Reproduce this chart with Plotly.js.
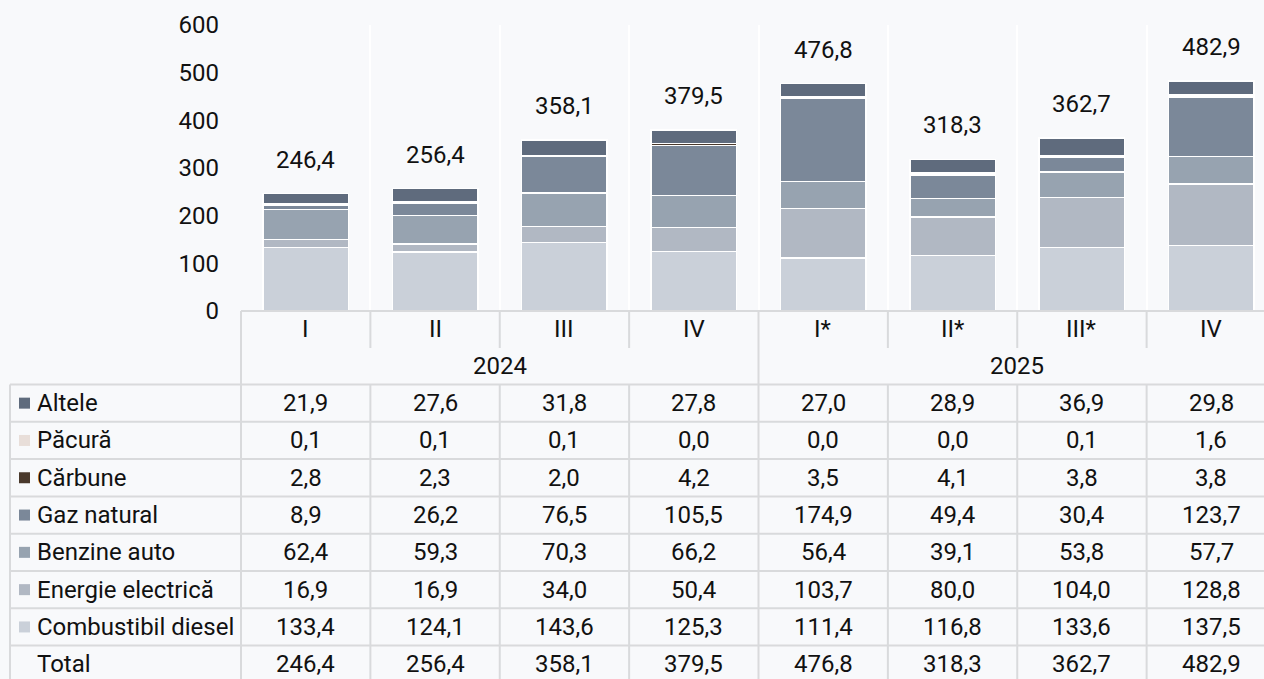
<!DOCTYPE html>
<html>
<head>
<meta charset="utf-8">
<script src="https://cdn.plot.ly/plotly-3.0.1.min.js"></script>
<style>
html,body{margin:0;padding:0;background:#f8f9fb;overflow:hidden;}
#chart{width:1280px;height:700px;}
</style>
</head>
<body>
<div id="chart"></div>
<script>
// ---- data ----
const quarters = ['I','II','III','IV','I*','II*','III*','IV'];
const years = ['2024','2025'];
const seriesNames = ['Altele','Păcură','Cărbune','Gaz natural','Benzine auto','Energie electrică','Combustibil diesel'];
const altele  = [21.9,27.6,31.8,27.8,27.0,28.9,36.9,29.8];
const pacura  = [0.1,0.1,0.1,0.0,0.0,0.0,0.1,1.6];
const carbune = [2.8,2.3,2.0,4.2,3.5,4.1,3.8,3.8];
const gaz     = [8.9,26.2,76.5,105.5,174.9,49.4,30.4,123.7];
const benzine = [62.4,59.3,70.3,66.2,56.4,39.1,53.8,57.7];
const energie = [16.9,16.9,34.0,50.4,103.7,80.0,104.0,128.8];
const diesel  = [133.4,124.1,143.6,125.3,111.4,116.8,133.6,137.5];
const total   = [246.4,256.4,358.1,379.5,476.8,318.3,362.7,482.9];
const yTicks  = [0,100,200,300,400,500,600];

// ---- styling ----
const colors = {
  'Altele':'#5f6b7d','Păcură':'#e8ded9','Cărbune':'#4a392c','Gaz natural':'#7b8899',
  'Benzine auto':'#97a3b0','Energie electrică':'#b1b8c3','Combustibil diesel':'#cad0d9'
};
const seriesData = {
  'Altele':altele,'Păcură':pacura,'Cărbune':carbune,'Gaz natural':gaz,
  'Benzine auto':benzine,'Energie electrică':energie,'Combustibil diesel':diesel
};
const fmt = v => v.toFixed(1).replace('.', ',');
const FONT = 'Roboto, "Noto Sans", sans-serif';
const FS = 24;
const TXT = '#111111';
const LINE = '#d9dadc';

const W = 1280, H = 700;
const ML = 241, MR = 4, MT = 25, MB = 389;
const PW = W - ML - MR, PH = H - MT - MB;
const plotBottom = MT + PH;
const px = x => (x - ML) / PW;          // pixel x -> paper x
const py = y => (plotBottom - y) / PH;  // pixel y -> paper y
const n = quarters.length;
const colX = k => k / n;                // paper x of column boundary k

const xs = quarters.map((q,i) => i);

// stack order bottom -> top
const stackOrder = ['Combustibil diesel','Energie electrică','Benzine auto','Gaz natural','Cărbune','Păcură','Altele'];
const traces = stackOrder.map(name => ({
  type:'bar', x: xs, y: seriesData[name], name: name,
  marker:{color: colors[name], line:{color:'#ffffff', width:1.5}},
  width: 0.66, hoverinfo:'name+y', showlegend:false
}));

// ---- table geometry (pixels) ----
const headTop = 311, head1Bottom = 348, head2Bottom = 384.5;
const rowH = 37.3;
const tableLeft = 10;
const tableRows = seriesNames.concat(['Total']);
const rowValues = seriesNames.map(s => seriesData[s]).concat([total]);

const shapes = [];
const hline = (y, x0p, x1p) => shapes.push({type:'line', xref:'paper', yref:'paper',
  x0:x0p, x1:x1p, y0:py(y), y1:py(y), line:{color:LINE, width:2}, layer:'above'});
const vline = (xp, y0, y1) => shapes.push({type:'line', xref:'paper', yref:'paper',
  x0:xp, x1:xp, y0:py(y0), y1:py(y1), line:{color:LINE, width:2}, layer:'above'});

hline(headTop, colX(0), px(W+10));
hline(head2Bottom, px(tableLeft), px(W+10));
for (let r = 1; r <= tableRows.length; r++) hline(head2Bottom + r*rowH, px(tableLeft), px(W+10));
vline(px(tableLeft), head2Bottom, H + 10);
for (let k = 0; k <= n; k++) {
  if (k === 0 || k === n/2) vline(colX(k), headTop, H + 10);
  else { vline(colX(k), headTop, head1Bottom); vline(colX(k), head2Bottom, H + 10); }
}

const annotations = [];
const txt = (text, xp, yp, xanchor) => annotations.push({xref:'paper', yref:'paper', x:xp, y:yp,
  text:text, showarrow:false, xanchor:xanchor||'center', yanchor:'middle',
  font:{family:FONT, size:FS, color:TXT}});

// quarter header
quarters.forEach((q,i) => txt(q, colX(i+0.5), py((headTop+head1Bottom)/2)));
// year header
years.forEach((yv,j) => txt(yv, colX(j*n/2 + n/4), py((head1Bottom+head2Bottom)/2)));
// rows
tableRows.forEach((name, r) => {
  const yc = head2Bottom + (r+0.5)*rowH;
  txt(name, px(35), py(yc), 'left');
  if (seriesNames.includes(name)) {
    shapes.push({type:'rect', xref:'paper', yref:'paper', x0:px(19), x1:px(30), y0:py(yc-5.5), y1:py(yc+5.5),
      fillcolor:colors[name], line:{width:0}, layer:'above'});
  }
  rowValues[r].forEach((v,i) => txt(fmt(v), colX(i+0.5), py(yc)));
});

// bar total labels
total.forEach((t,i) => annotations.push({xref:'x', yref:'y', x:xs[i], y:t, text:fmt(t),
  showarrow:false, xanchor:'center', yanchor:'middle', yshift:34,
  font:{family:FONT, size:FS, color:TXT}}));

const layout = {
  width: W, height: H,
  margin:{l:ML, r:MR, t:MT, b:MB, pad:0},
  paper_bgcolor:'#f8f9fb', plot_bgcolor:'#f8f9fb',
  barmode:'stack', bargap:0.34,
  font:{family:FONT, size:FS, color:TXT},
  xaxis:{range:[-0.5, n-0.5], tickmode:'array', tickvals: quarters.map((q,i)=>i-0.5).concat([n-0.5]),
    showticklabels:false, ticks:'', showgrid:true, gridcolor:'#ffffff', gridwidth:2,
    zeroline:false, showline:false, fixedrange:true},
  yaxis:{range:[0,600], tickmode:'array', tickvals:yTicks, ticktext:yTicks.map(String),
    showgrid:false, zeroline:false, showline:false, ticks:'', ticklabelstandoff:21,
    tickfont:{family:FONT, size:FS, color:TXT}, fixedrange:true},
  shapes: shapes, annotations: annotations, showlegend:false
};

Plotly.newPlot('chart', traces, layout, {displayModeBar:false, staticPlot:true});
</script>
</body>
</html>
